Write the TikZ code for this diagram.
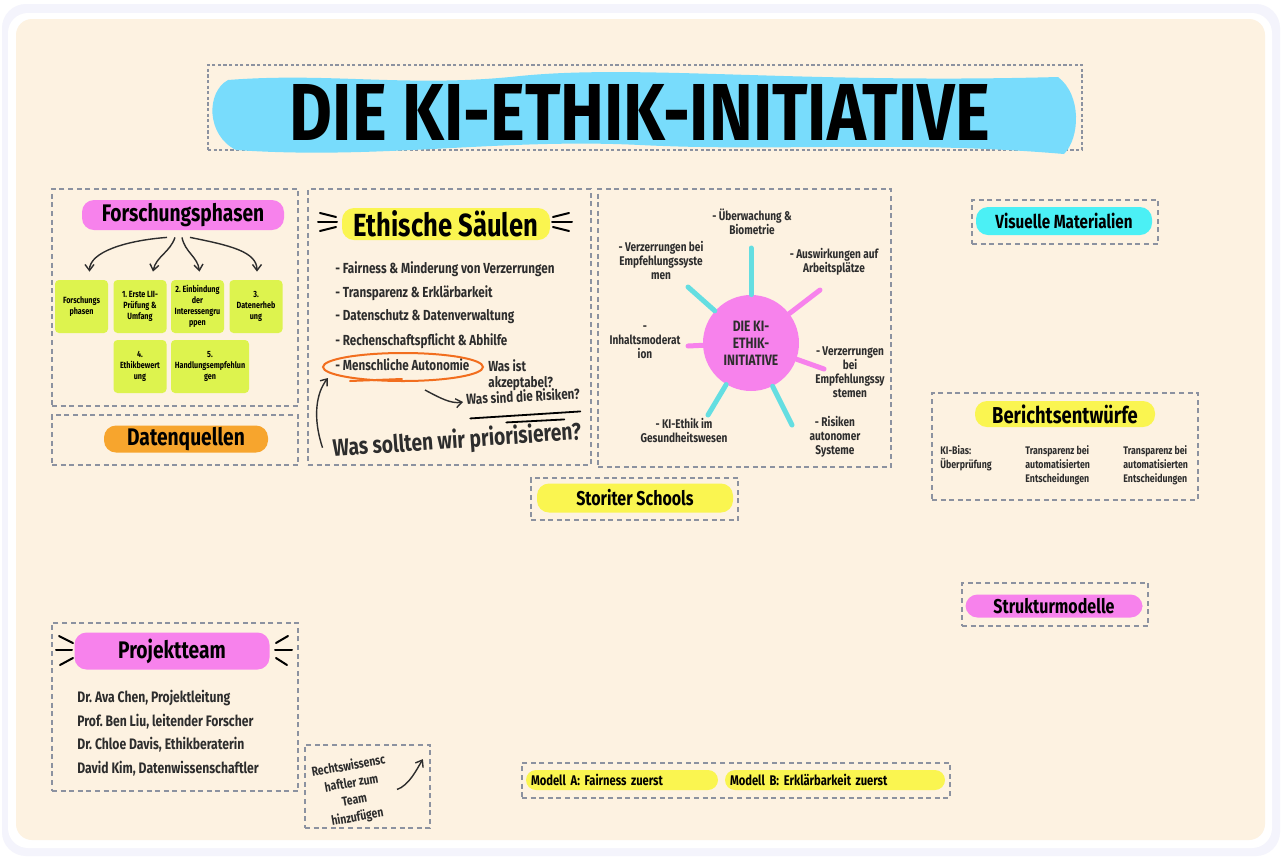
\documentclass[tikz,border=0pt]{standalone}
\usepackage{fontspec}
\setmainfont[FakeStretch=0.8]{Fira Sans}
\usepackage{graphicx}
\usepackage{tikz}
\usetikzlibrary{arrows.meta, positioning, fit, calc}
\usepackage{xcolor}
\definecolor{bgcream}{RGB}{253, 242, 225}
\definecolor{framelav}{RGB}{244, 244, 252}
\definecolor{dashgray}{RGB}{140, 146, 160}
\definecolor{hlpink}{RGB}{247, 130, 236}
\definecolor{hlyellow}{RGB}{250, 245, 80}
\definecolor{hlorange}{RGB}{247, 165, 45}
\definecolor{hlcyan}{RGB}{75, 240, 245}
\definecolor{titleblue}{RGB}{120, 220, 252}
\definecolor{notegreen}{RGB}{221, 243, 78}
\definecolor{raycyan}{RGB}{100, 222, 225}
\definecolor{circorange}{RGB}{242, 110, 30}
\definecolor{inkdark}{RGB}{45, 45, 45}
\frenchspacing

\tikzset{
  dashbox/.style={draw=dashgray, line width=0.9pt, dash pattern=on 2.5pt off 1.8pt, inner sep=0pt},
  hl/.style={fill=#1, rounded corners=6pt, inner sep=0pt, text=black,
    font=\bfseries\fontsize{12}{14}\selectfont},
  note/.style={fill=notegreen, rounded corners=2pt, minimum width=26.5pt, minimum height=26.5pt,
    inner sep=1pt, align=center, text=black, font=\bfseries\fontsize{4.5}{5.5}\selectfont},
  item/.style={anchor=west, inner sep=0pt, text=inkdark, font=\bfseries\fontsize{7.3}{8}\selectfont},
  mlabel/.style={align=center, inner sep=0pt, text=inkdark, font=\bfseries\fontsize{6.3}{7}\selectfont},
  colt/.style={anchor=north west, align=left, inner sep=0pt, text=inkdark,
    font=\bfseries\fontsize{5.5}{7}\selectfont},
  ray/.style={line width=2.5pt, line cap=round},
  arrowhand/.style={-{Straight Barb[length=3pt, width=4.5pt]}, line width=0.7pt, draw=inkdark},
  burst/.style={line width=1pt, line cap=round, draw=black},
  circ/.style={draw=circorange, line width=1pt, line cap=round}
}

\begin{document}
\begin{tikzpicture}[x=0.5pt, y=-0.5pt]
\useasboundingbox (0,0) rectangle (1282,858);

% --- Hintergrund ---
\fill[white] (0,0) rectangle (1282,858);
\fill[framelav, rounded corners=12pt] (2,4) rectangle (1280,856);
\fill[white, rounded corners=10pt] (8,13) rectangle (1272,848);
\fill[bgcream, rounded corners=8pt] (16,19) rectangle (1265,840);

% --- Titel ---
\node[dashbox, dash pattern=on 1.6pt off 1.2pt, fit={(208,65) (1082,150)}] (titlebox) {};
\fill[titleblue] (228,80) .. controls (330,72) and (410,88) .. (520,76)
  .. controls (640,64) and (800,84) .. (1058,77)
  .. controls (1082,95) and (1080,138) .. (1064,154)
  .. controls (900,140) and (780,152) .. (640,145)
  .. controls (500,138) and (380,160) .. (236,150)
  .. controls (206,135) and (206,92) .. cycle;
\node (title) at (640,112) {\resizebox{350pt}{28pt}{\bfseries DIE KI-ETHIK-INITIATIVE}};

% --- Forschungsphasen ---
\node[dashbox, fit={(52,189) (298,406)}] (fbox) {};
\node[hl=hlpink, minimum width=101pt, minimum height=15pt] (fphasen) at (183,215) {Forschungsphasen};
\node[note] (n1) at (81.5,306.5) {Forschungs\\phasen};
\node[note] (n2) at (140,306.5) {1. Erste LII-\\Prüfung \&\\Umfang};
\node[note] (n3) at (197.5,306.5) {2. Einbindung\\der\\Interessengru\\ppen};
\node[note] (n4) at (256,306.5) {3.\\Datenerheb\\ung};
\node[note] (n5) at (140,366.5) {4.\\Ethikbewert\\ung};
\node[note, minimum width=39pt] (n6) at (210,366.5) {5.\\Handlungsempfehlun\\gen};
\draw[arrowhand] ($(fphasen.south)+(-16,7)$) .. controls +(-40,3) and +(0,-20) .. ($(n1.north)+(8,-8)$);
\draw[arrowhand] ($(fphasen.south)+(-8,7)$) .. controls +(-5,15) and +(3,-15) .. ($(n2.north)+(13,-8)$);
\draw[arrowhand] ($(fphasen.south)+(-1,7)$) .. controls +(3,15) and +(-2,-15) .. ($(n3.north)+(2,-8)$);
\draw[arrowhand] ($(fphasen.south)+(7,7)$) .. controls +(40,8) and +(0,-20) .. ($(n4.north)+(1,-8)$);

% --- Datenquellen ---
\node[dashbox, fit={(52,415) (298,465)}] (dbox) {};
\node[hl=hlorange, minimum width=82pt, minimum height=13.5pt] (datenq) at (186,439) {Datenquellen};

% --- Ethische Saeulen ---
\node[dashbox, fit={(308,189) (591,465)}] (ebox) {};
\node[hl=hlyellow, minimum width=104pt, minimum height=16pt, font=\bfseries\fontsize{16}{18}\selectfont] (ethik) at (446,224) {Ethische Säulen};
\foreach \a/\b in {{320,213}/{336,217}, {318,222}/{337,222}, {320,231}/{336,227},
                   {553,217}/{569,213}, {552,222}/{572,222}, {553,227}/{569,231}}
  \draw[burst] (\a) -- (\b);
\foreach \t [count=\i] in {- Fairness \& Minderung von Verzerrungen, - Transparenz \& Erklärbarkeit,
    - Datenschutz \& Datenverwaltung, - Rechenschaftspflicht \& Abhilfe, - Menschliche Autonomie}
  \node[item] (e\i) at (335,245+24*\i) {\t};
\draw[circ] ($(e5.west)+(68,2)$) ellipse [x radius=80, y radius=14];
\draw[circ] ($(e5.west)+(15,16)$) -- ++(52,-2);
\node[item, anchor=north west, align=left] (q1) at (488,359) {Was ist\\akzeptabel?};
\node[item, rotate=3] (q2) at (466,399) {Was sind die Risiken?};
\draw[arrowhand] ($(e5.west)+(90,25)$) .. controls +(15,8) and +(-12,2) .. ($(q2.west)+(-3,3)$);
\draw[burst, line width=0.9pt] ($(q2.south west)+(4,13)$) -- ++(110,-7);
\draw[burst, line width=0.9pt] ($(q2.south west)+(40,17)$) -- ++(58,-3);
\node[inner sep=0pt, rotate=4, text=inkdark, font=\bfseries\fontsize{12}{14}\selectfont] (qbig) at (457,441) {Was sollten wir priorisieren?};
\draw[arrowhand] ($(qbig.west)+(-10,-2)$) .. controls +(-10,-30) and +(-12,15) .. ($(e5.west)+(-7,13)$);

% --- Mindmap ---
\node[dashbox, fit={(598,189) (891,467)}] (mbox) {};
\node[circle, fill=hlpink, minimum size=48pt, inner sep=0pt, align=center, text=inkdark,
  font=\bfseries\fontsize{7.5}{8.5}\selectfont] (hub) at (751,343) {DIE KI-\\ETHIK-\\INITIATIVE};
\foreach \p/\c in {{751,248}/raycyan, {688,287}/raycyan, {708,415}/raycyan, {792,425}/raycyan,
                   {820,290}/hlpink, {688,346}/hlpink, {824,369}/hlpink}
  \draw[ray, \c] (hub) -- (\p);
\node[mlabel] (m1) at (752,222) {- Überwachung \&\\Biometrie};
\node[mlabel] (m2) at (661,260) {- Verzerrungen bei\\Empfehlungssyste\\men};
\node[mlabel] (m3) at (834,262) {- Auswirkungen auf\\Arbeitsplätze};
\node[mlabel] (m4) at (645,342) {-\\Inhaltsmoderat\\ion};
\node[mlabel] (m5) at (850,372) {- Verzerrungen\\bei\\Empfehlungssy\\stemen};
\node[mlabel] (m6) at (684,430) {- KI-Ethik im\\Gesundheitswesen};
\node[mlabel] (m7) at (835,437) {- Risiken\\autonomer\\Systeme};

% --- Storiter Schools ---
\node[dashbox, fit={(531,478) (738,520)}] (sbox) {};
\node[hl=hlyellow, minimum width=98pt, minimum height=14.5pt, font=\bfseries\fontsize{10}{12}\selectfont] (storiter) at (635,498) {Storiter Schools};

% --- Rechte Spalte ---
\node[dashbox, fit={(972,200) (1158,244)}] (vbox) {};
\node[hl=hlcyan, minimum width=88pt, minimum height=14pt, font=\bfseries\fontsize{9.5}{11}\selectfont] (visuell) at (1064,221) {Visuelle Materialien};

\node[dashbox, fit={(932,393) (1198,500)}] (bbox) {};
\node[hl=hlyellow, minimum width=90pt, minimum height=13pt, font=\bfseries\fontsize{11.5}{13}\selectfont] (bericht) at (1065,414) {Berichtsentwürfe};
\node[colt] (b1) at (940,445) {KI-Bias:\\Überprüfung};
\node[colt] (b2) at (1025,445) {Transparenz bei\\automatisierten\\Entscheidungen};
\node[colt] (b3) at (1123,445) {Transparenz bei\\automatisierten\\Entscheidungen};

\node[dashbox, fit={(962,583) (1148,626)}] (strbox) {};
\node[hl=hlpink, minimum width=88.5pt, minimum height=11.5pt, font=\bfseries\fontsize{10}{12}\selectfont] (struktur) at (1054,606) {Strukturmodelle};

% --- Projektteam ---
\node[dashbox, fit={(52,623) (298,791)}] (pbox) {};
\node[hl=hlpink, minimum width=97.5pt, minimum height=18.5pt] (projekt) at (172,651) {Projektteam};
\foreach \a/\b in {{59,636}/{73,643}, {56,650}/{72,650}, {60,665}/{73,658},
                   {288,636}/{276,643}, {292,650}/{275,650}, {287,665}/{276,658}}
  \draw[burst] (\a) -- (\b);
\foreach \t [count=\i] in {{Dr. Ava Chen, Projektleitung}, {Prof. Ben Liu, leitender Forscher},
    {Dr. Chloe Davis, Ethikberaterin}, {David Kim, Datenwissenschaftler}}
  \node[item, font=\bfseries\fontsize{7.6}{8}\selectfont] (p\i) at (77,674.5+23.5*\i) {\t};

% --- Notiz ---
\node[dashbox, fit={(305,745) (430,828)}] (lbox) {};
\node[align=center, inner sep=0pt, rotate=10, text=inkdark, font=\bfseries\fontsize{6.5}{8.6}\selectfont] (legal) at (353,792) {Rechtswissensc\\haftler zum\\Team\\hinzufügen};
\draw[arrowhand] ($(legal.east)+(7,4)$) .. controls +(12,-4) and +(-6,10) .. ($(lbox.north east)+(-8,15)$);

% --- Modelle ---
\node[dashbox, fit={(522,763) (950,798)}] (modbox) {};
\node[hl=hlyellow, rounded corners=5pt, minimum height=10pt, text width=91pt, inner xsep=2.5pt, align=left,
  font=\bfseries\fontsize{7}{8}\selectfont] (modA) at (622,780) {Modell A: Fairness zuerst};
\node[hl=hlyellow, rounded corners=5pt, minimum height=10pt, text width=105pt, inner xsep=2.5pt, align=left,
  font=\bfseries\fontsize{7}{8}\selectfont] (modB) at (835,780) {Modell B: Erklärbarkeit zuerst};
\end{tikzpicture}
\end{document}
